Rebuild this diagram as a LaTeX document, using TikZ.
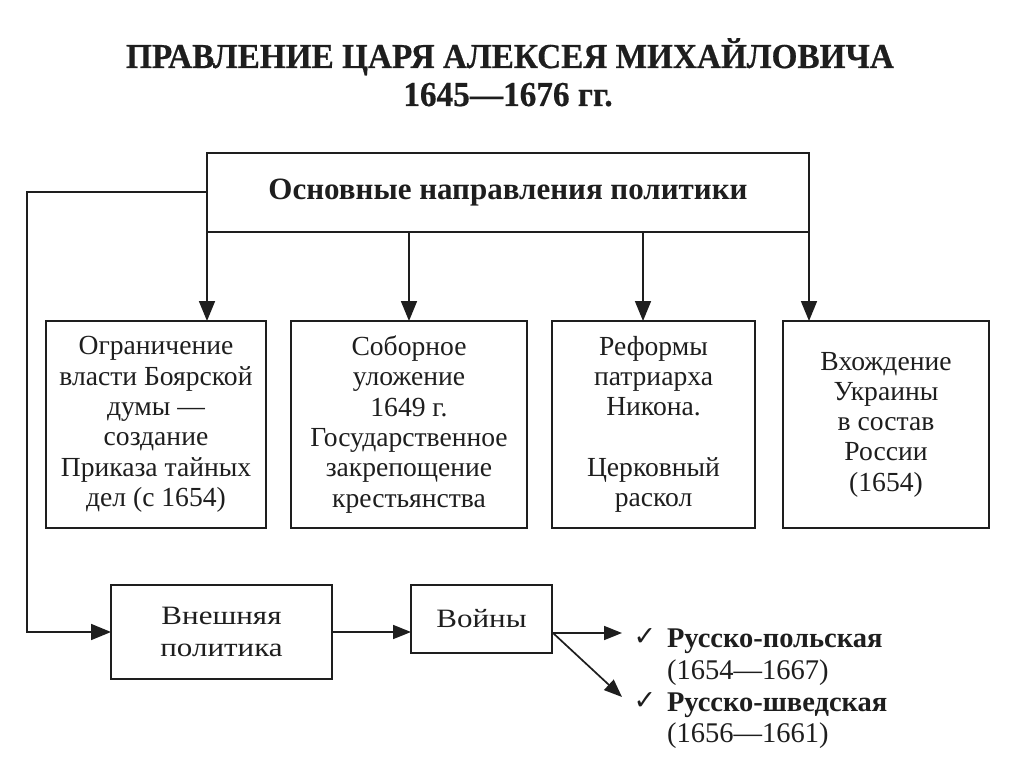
\documentclass[tikz,border=0pt]{standalone}
\usepackage{fontspec}
\setmainfont{Liberation Serif}
\newfontfamily\titlefont[FakeStretch=0.95,FakeBold=0.5]{Liberation Serif}
\newfontfamily\widefont[FakeStretch=1.17]{Liberation Serif}
\newfontfamily\symfont{DejaVu Sans}
\usetikzlibrary{arrows.meta}
\definecolor{ink}{HTML}{1E1E1E}
\begin{document}
\begin{tikzpicture}[x=1pt,y=-1pt,
  every node/.style={inner sep=0pt, outer sep=0pt, text=ink},
  box/.style={draw=ink, line width=1.7pt, align=center, font=\fontsize{27.6}{30.3}\selectfont},
  arr/.style={draw=ink, line width=1.7pt, -{Triangle[length=20pt,width=16pt]}},
  sarr/.style={draw=ink, line width=1.7pt, -{Triangle[length=18pt,width=14pt]}},
  ln/.style={draw=ink, line width=1.7pt}]
\useasboundingbox (0,0) rectangle (1024,767);
\fill[white] (0,0) rectangle (1024,767);
% title
\node[font=\titlefont\bfseries\fontsize{35}{42}\selectfont, anchor=base] (t1) at (510,68) {ПРАВЛЕНИЕ ЦАРЯ АЛЕКСЕЯ МИХАЙЛОВИЧА};
\node[font=\titlefont\bfseries\fontsize{35}{42}\selectfont, anchor=base] (t2) at (508,106) {1645—1676 гг.};
% main box
\node[box, minimum width=602pt, minimum height=79pt, font=\bfseries\fontsize{31}{34}\selectfont] (top) at (508,192.5) {Основные направления политики};
% four boxes
\node[box, minimum width=220pt, minimum height=207pt] (b1) at (156,424.5) {Ограничение\\власти Боярской\\думы —\\создание\\Приказа тайных\\дел (с 1654)};
\node[box, minimum width=236pt, minimum height=207pt] (b2) at (409,424.5) {Соборное\\уложение\\1649 г.\\Государственное\\закрепощение\\крестьянства};
\node[box, minimum width=203pt, minimum height=207pt] (b3) at (653.5,424.5) {Реформы\\патриарха\\Никона.\\[30.3pt]Церковный\\раскол};
\node[box, minimum width=206pt, minimum height=207pt] (b4) at (886,424.5) {Вхождение\\Украины\\в состав\\России\\(1654)};
% arrows down
\draw[arr] (top.south west) -- (top.south west |- b1.north);
\draw[arr] (b2.north |- top.south) -- (b2.north);
\draw[arr] (643,232) coordinate (c3) -- (c3 |- b3.north);
\draw[arr] (top.south east) -- (top.south east |- b4.north);
% lower boxes
\node[box, minimum width=221pt, minimum height=94pt, font=\widefont\fontsize{26.5}{32}\selectfont] (ext) at (221.5,632) {Внешняя\\политика};
\node[box, minimum width=141pt, minimum height=68pt, font=\widefont\fontsize{26.5}{32}\selectfont] (war) at (481.5,619) {Войны};
\coordinate (corner) at (27,192);
\draw[arr] (top.west |- corner) -- (corner) |- (ext.west);
\draw[sarr] (ext.east) -- (war.west |- ext.east);
% wars
\coordinate (wo) at (553,633);
\node[font=\symfont\fontsize{27}{28}\selectfont] (ck1) at (645,637) {✓};
\node[font=\symfont\fontsize{27}{28}\selectfont] (ck2) at (645,701) {✓};
\node[anchor=base west, font=\bfseries\fontsize{28.5}{30}\selectfont] (w1) at (667,647) {Русско-польская};
\node[anchor=base west, font=\fontsize{28.5}{30}\selectfont] (w1d) at (667,679) {(1654—1667)};
\node[anchor=base west, font=\bfseries\fontsize{28.5}{30}\selectfont] (w2) at (667,711) {Русско-шведская};
\node[anchor=base west, font=\fontsize{28.5}{30}\selectfont] (w2d) at (667,742) {(1656—1661)};
\draw[sarr] (wo) -- (622,633) coordinate (e1);
\draw[sarr] (wo) -- (622,697) coordinate (e2);
\end{tikzpicture}
\end{document}
